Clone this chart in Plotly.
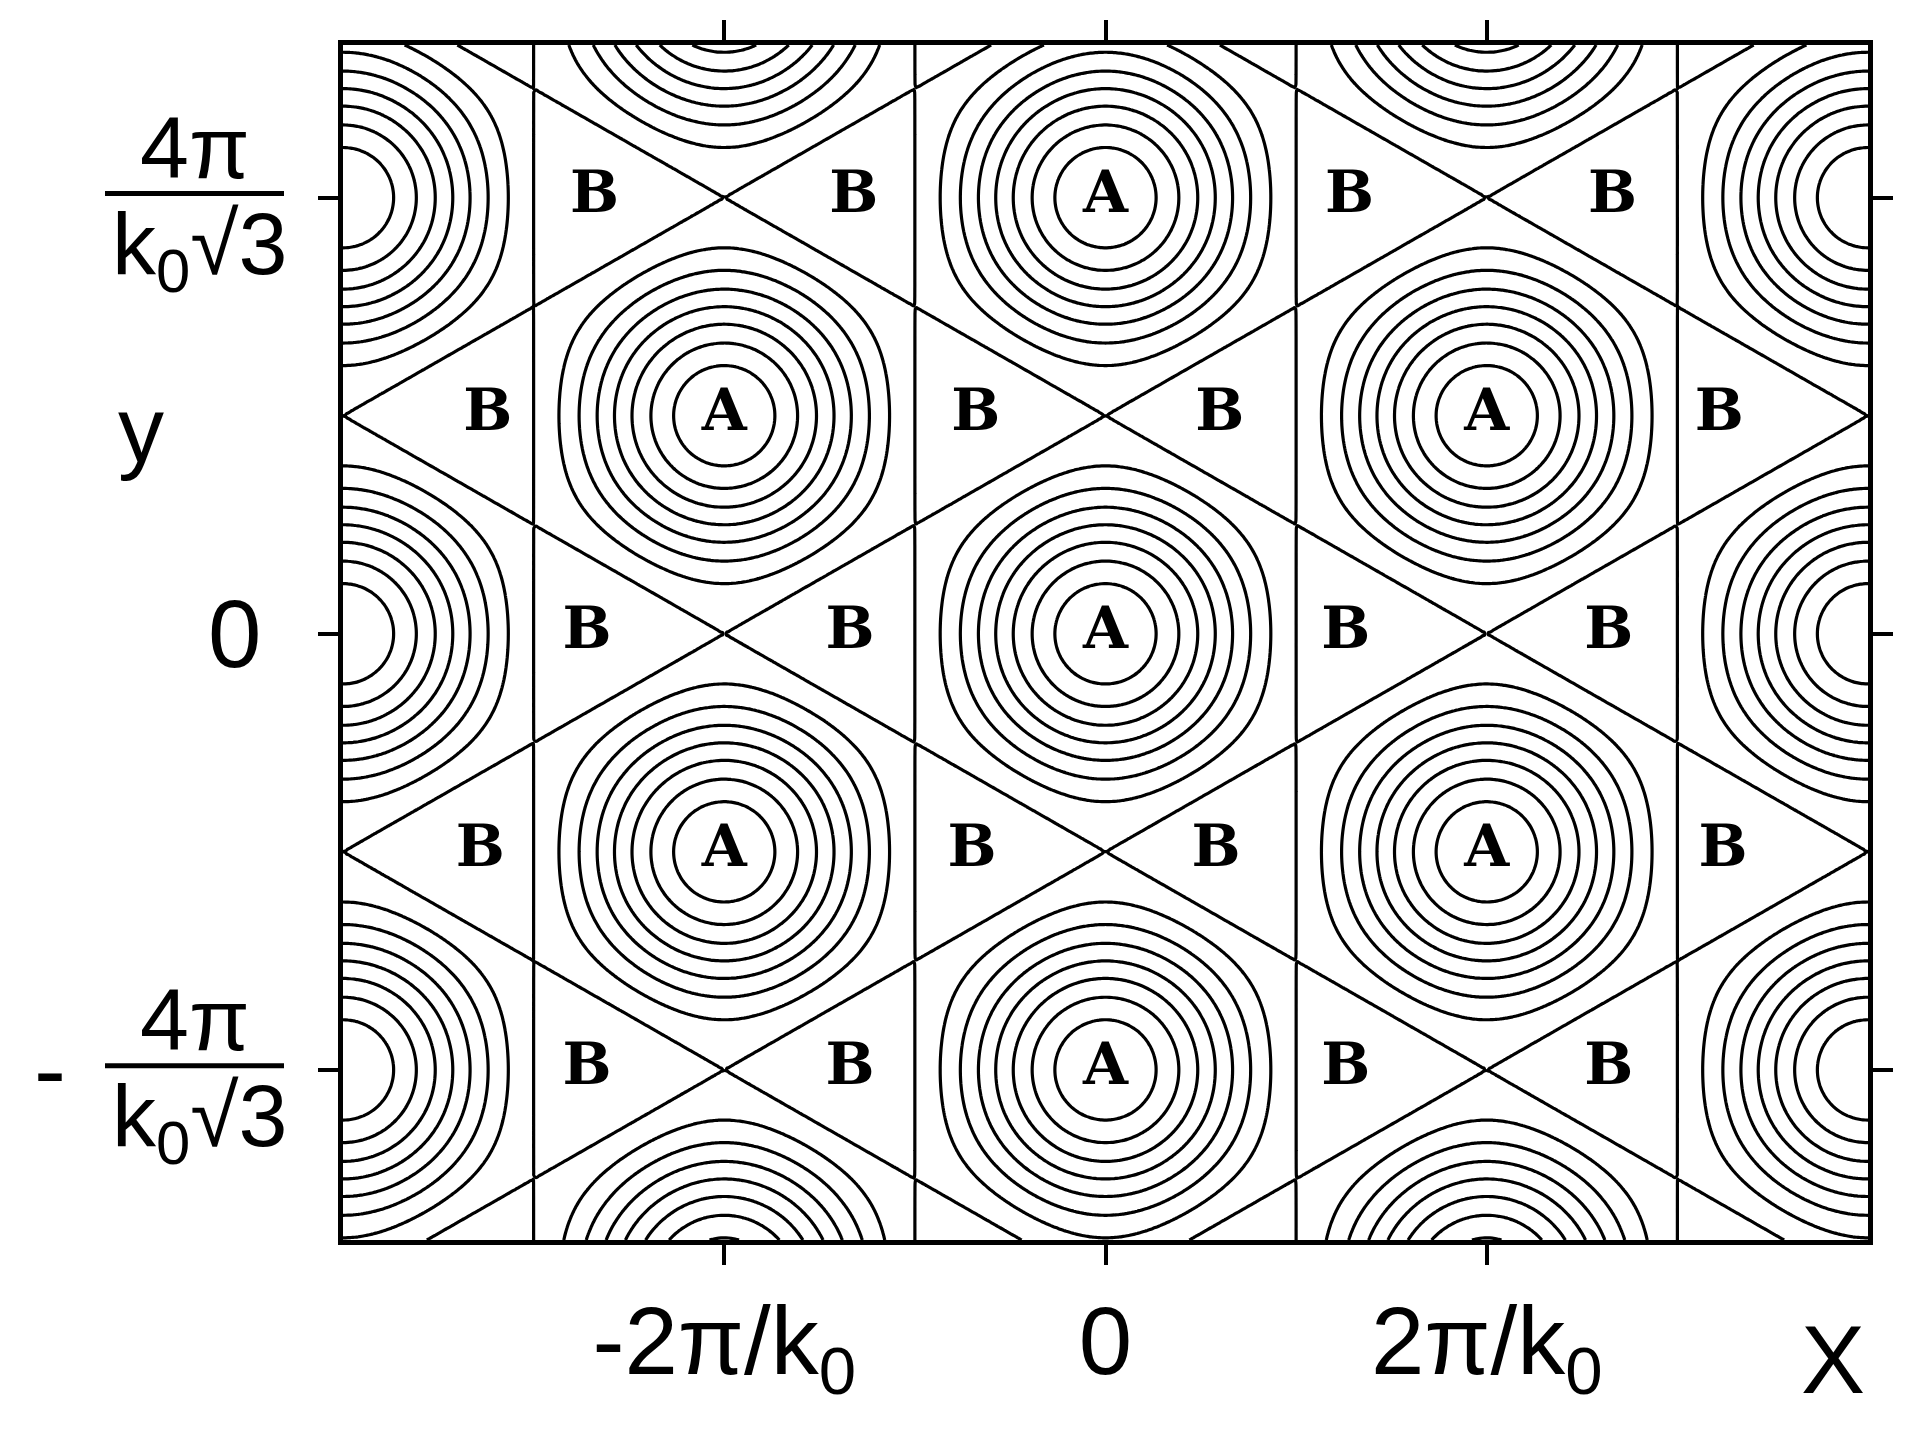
import numpy as np
import plotly.graph_objects as go

# hexagonal pattern: x unit = 2π/k0, y unit = 4π/(k0√3)
K0 = 1.0
X_UNIT = 2 * np.pi / K0
Y_UNIT = 4 * np.pi / (K0 * np.sqrt(3))

# directions of the three wave vectors (deg) and the contour levels
wave_angles = [0, 60, 120]
level_start, level_end, level_step = -1.0, 2.5, 0.5

x_range_units = [-2.0, 2.0]
y_range_units = [-1.39, 1.35]

x_tick_units = [-1, 0, 1]
x_tick_text = ["-2π/k<sub>0</sub>", "0", "2π/k<sub>0</sub>"]
y_tick_units = [-1, 0, 1]

# maxima labels "A"
a_x = [0, 0, 0, -1, 1, -1, 1]
a_y = [1, 0, -1, 0.5, 0.5, -0.5, -0.5]

# minima labels "B"
b_x = [-1.34, -0.66, 0.64, 1.33,
       -1.62, -0.34, 0.30, 1.61,
       -1.36, -0.67, 0.63, 1.32,
       -1.64, -0.35, 0.29, 1.62,
       -1.36, -0.67, 0.63, 1.32]
b_y = [1.0, 1.0, 1.0, 1.0,
       0.5, 0.5, 0.5, 0.5,
       0.0, 0.0, 0.0, 0.0,
       -0.5, -0.5, -0.5, -0.5,
       -1.0, -1.0, -1.0, -1.0]

# pattern amplitude on a grid covering the frame
xs = np.linspace(x_range_units[0] * X_UNIT, x_range_units[1] * X_UNIT, 602)
ys = np.linspace(y_range_units[0] * Y_UNIT, y_range_units[1] * Y_UNIT, 481)
gx, gy = np.meshgrid(xs, ys)
amp = np.zeros_like(gx)
for ang in wave_angles:
    t = np.radians(ang)
    amp += np.cos(K0 * (np.cos(t) * gx + np.sin(t) * gy))
amp = np.round(amp, 4)

# plot frame in pixels (for placing the hand-made y labels)
W, H = 1912, 1435
L, R, T, B = 335, 52, 34, 203
PW, PH = W - L - R, H - T - B


def px(xpix):
    return (xpix - L) / PW


def py(ypix):
    return 1 - (ypix - T) / PH


fig = go.Figure()
fig.add_trace(go.Contour(
    x=xs, y=ys, z=amp,
    contours=dict(start=level_start, end=level_end, size=level_step, coloring="lines"),
    colorscale=[[0, "black"], [1, "black"]],
    line=dict(width=3.2, smoothing=0.8),
    showscale=False, hoverinfo="skip",
))
label_font = dict(family="DejaVu Serif", size=58, color="black", weight="bold")
fig.add_trace(go.Scatter(
    x=[v * X_UNIT for v in a_x], y=[v * Y_UNIT for v in a_y],
    mode="text", text=["A"] * len(a_x), textfont=label_font,
    hoverinfo="skip",
))
fig.add_trace(go.Scatter(
    x=[v * X_UNIT for v in b_x], y=[v * Y_UNIT for v in b_y],
    mode="text", text=["B"] * len(b_x), textfont=label_font,
    hoverinfo="skip",
))

axis_common = dict(
    ticks="outside", ticklen=20, tickwidth=4, tickcolor="black",
    showline=True, linewidth=5, linecolor="black", mirror="ticks",
    showgrid=False, zeroline=False,
)
fig.update_xaxes(
    range=[x_range_units[0] * X_UNIT, x_range_units[1] * X_UNIT],
    tickvals=[v * X_UNIT for v in x_tick_units], ticktext=x_tick_text,
    tickfont=dict(family="Liberation Sans", size=96, color="black"),
    ticklabelstandoff=-6,
    **axis_common,
)
fig.update_yaxes(
    range=[y_range_units[0] * Y_UNIT, y_range_units[1] * Y_UNIT],
    tickvals=[v * Y_UNIT for v in y_tick_units], showticklabels=False,
    **axis_common,
)

big = dict(family="Liberation Sans", size=96, color="black")
frac = dict(family="Liberation Sans", size=88, color="black")
ann = []
shapes = []


def note(x, y, text, font, yref="y", yshift=0):
    ann.append(dict(x=x, y=y, xref="paper", yref=yref, text=text, yshift=yshift,
                    xanchor="center", yanchor="middle", showarrow=False, font=font))


for v in y_tick_units:
    yv = v * Y_UNIT
    if v == 0:
        note(px(226), yv, "0", big)
        continue
    note(px(187), yv, "4π", frac, yshift=50)
    note(px(192), yv, "k<sub>0</sub>√3", frac, yshift=-52)
    shapes.append(dict(type="line", xref="paper", yref="y", x0=px(97), x1=px(276),
                       y0=yv + 0.07, y1=yv + 0.07, line=dict(color="black", width=5)))
    if v < 0:
        note(px(42), yv, "-", big)

note(px(133), py(420), "y", dict(family="Liberation Sans", size=92, color="black"), yref="paper")
note(px(1825), py(1352), "X", big, yref="paper")

fig.update_layout(
    width=W, height=H,
    margin=dict(l=L, r=R, t=T, b=B),
    plot_bgcolor="white", paper_bgcolor="white",
    showlegend=False,
    annotations=ann, shapes=shapes,
)

fig.write_html("out.html")
